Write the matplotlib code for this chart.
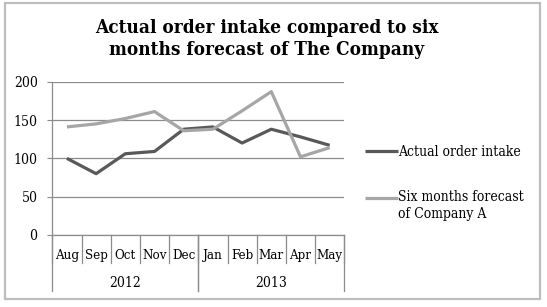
import matplotlib
matplotlib.use("Agg")
import matplotlib.pyplot as plt
from matplotlib.lines import Line2D
from matplotlib.patches import Rectangle
from matplotlib.legend_handler import HandlerLine2D
import matplotlib.transforms as mtransforms
from matplotlib import font_manager

months = ["Aug", "Sep", "Oct", "Nov", "Dec", "Jan", "Feb", "Mar", "Apr", "May"]
years = ["2012", "2013"]
year_spans = [(0, 5), (5, 10)]
actual = [100, 80, 106, 109, 138, 141, 120, 138, 128, 117]
forecast = [141, 145, 152, 161, 136, 138, 162, 187, 102, 114]
yticks = [0, 50, 100, 150, 200]

names = {f.name for f in font_manager.fontManager.ttflist}
FONT = "DejaVu Serif Condensed" if "DejaVu Serif Condensed" in names else "DejaVu Serif"
STRETCH = "condensed"

W, H = 547, 307
fig = plt.figure(figsize=(W / 100, H / 100), dpi=100)
plt.rcParams["font.family"] = FONT
plt.rcParams["font.stretch"] = STRETCH

fig.patches.append(Rectangle((4.5 / W, 1 - 299 / H), (540 - 4.5) / W, (299 - 2.5) / H,
                             transform=fig.transFigure, fill=False,
                             edgecolor="#bdbdbd", linewidth=1.6))

left, right = 52.3 / W, 344.3 / W
bottom, top = 1 - 235 / H, 1 - 81.7 / H
ax = fig.add_axes([left, bottom, right - left, top - bottom])

x = list(range(len(months)))
grid_c = "#8c8c8c"
l1, = ax.plot(x, actual, color="#595959", lw=2.3, label="Actual order intake", solid_capstyle="butt", zorder=3)
l2, = ax.plot(x, forecast, color="#a6a6a6", lw=2.3, label="Six months forecast\nof Company A", solid_capstyle="butt", zorder=3)

ax.set_xlim(-0.5, len(months) - 0.5)
ax.set_ylim(0, 200)
ax.set_yticks(yticks)
ax.yaxis.grid(True, color=grid_c, lw=0.9)
ax.set_axisbelow(True)
for s in ["top", "right"]:
    ax.spines[s].set_visible(False)
for s in ["left", "bottom"]:
    ax.spines[s].set_color(grid_c)
    ax.spines[s].set_linewidth(0.9)
ax.tick_params(axis="y", length=3.6, color=grid_c, pad=7, labelsize=10)
ax.set_xticks(x)
ax.set_xticklabels(months, fontsize=9.5)
ax.tick_params(axis="x", length=0, pad=10)

axh = (top - bottom) * H
trans = mtransforms.blended_transform_factory(ax.transData, ax.transAxes)
for b in range(len(months) + 1):
    ax.add_line(Line2D([b - 0.5, b - 0.5], [0, -28 / axh], transform=trans,
                       color=grid_c, lw=0.9, clip_on=False))
for (s, e), yr in zip(year_spans, years):
    for b in (s, e):
        ax.add_line(Line2D([b - 0.5, b - 0.5], [0, -56 / axh], transform=trans,
                           color=grid_c, lw=0.9, clip_on=False))
    ax.text((s + e - 1) / 2, -48 / axh, yr, transform=trans, ha="center", va="center",
            fontsize=10)

fig.text(267 / W, 1 - 39 / H, "Actual order intake compared to six\nmonths forecast of The Company",
         ha="center", va="center", fontsize=13.6, fontweight="bold", linespacing=1.3)


class ShiftedLine(HandlerLine2D):
    def __init__(self, shift, **kw):
        super().__init__(**kw)
        self.shift = shift

    def create_artists(self, legend, orig_handle, xdescent, ydescent, width, height,
                       fontsize, trans):
        arts = super().create_artists(legend, orig_handle, xdescent, ydescent, width,
                                      height, fontsize, trans)
        for a in arts:
            a.set_ydata([v + self.shift for v in a.get_ydata()])
        return arts


leg = ax.legend(loc="upper left", bbox_to_anchor=(365 / W, 1 - 145 / H),
                bbox_transform=fig.transFigure, frameon=False, fontsize=10,
                handlelength=2.4, handletextpad=0.0, labelspacing=2.2,
                borderaxespad=0, borderpad=0,
                handler_map={l2: ShiftedLine(6.0)})
for t in leg.get_texts():
    t.set_linespacing(1.3)

fig.savefig("out.png", dpi=100)
